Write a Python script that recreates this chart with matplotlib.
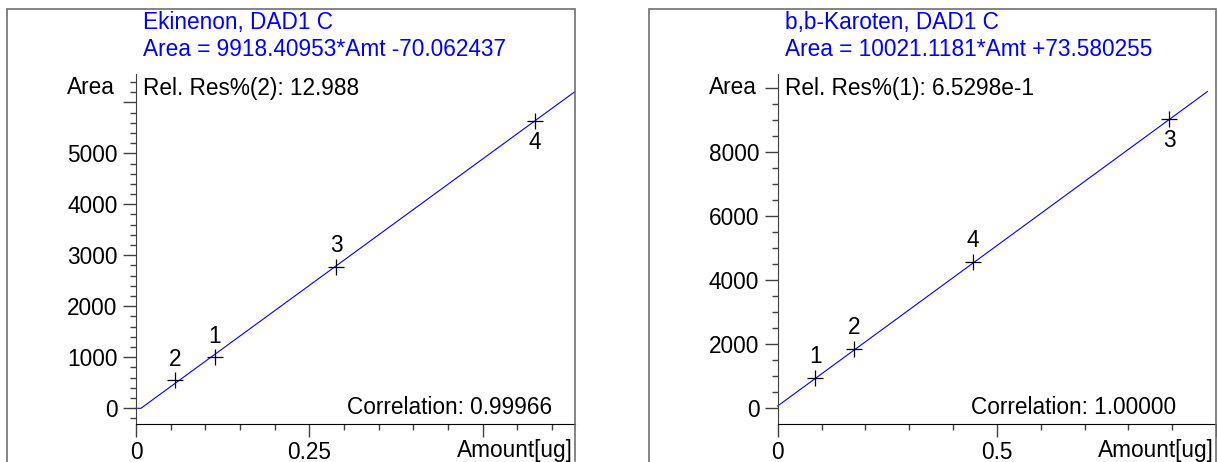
import numpy as np
import matplotlib
matplotlib.use("Agg")
import matplotlib.pyplot as plt
from matplotlib.patches import Rectangle
from matplotlib.ticker import MultipleLocator

plt.rcParams["font.family"] = ["Liberation Sans", "DejaVu Sans"]

# calibration data: Ekinenon
ekin_amt = [0.114, 0.0563, 0.2885, 0.5755]
ekin_area = [1000, 552, 2780, 5625]
ekin_slope, ekin_icept = 9918.40953, -70.062437
ekin_title = ["Ekinenon, DAD1 C", "Area = 9918.40953*Amt -70.062437"]
ekin_res = "Rel. Res%(2): 12.988"
ekin_corr = "Correlation: 0.99966"
ekin_xlabels = ["0", "0.25", ""]
ekin_ylabels = ["0", "1000", "2000", "3000", "4000", "5000", ""]

# calibration data: b,b-Karoten
karo_amt = [0.086, 0.175, 0.8926, 0.4459]
karo_area = [960, 1860, 9034, 4580]
karo_slope, karo_icept = 10021.1181, 73.580255
karo_title = ["b,b-Karoten, DAD1 C", "Area = 10021.1181*Amt +73.580255"]
karo_res = "Rel. Res%(1): 6.5298e-1"
karo_corr = "Correlation: 1.00000"
karo_xlabels = ["0", "0.5", ""]
karo_ylabels = ["0", "2000", "4000", "6000", "8000", ""]

point_ids = ["1", "2", "3", "4"]

W, H = 1217, 462
FS = 16.3
fig = plt.figure(figsize=(W / 100, H / 100), dpi=100)


def px(x0, y0, x1, y1):
    # pixel box (top-left origin) -> figure fraction rect
    return [x0 / W, 1 - y1 / H, (x1 - x0) / W, (y1 - y0) / H]


def panel(frame, axbox, amt, area, slope, icept, title, res, corr, corr_x,
          xlim, ylim, xmaj, xmin, ymaj, ymin, xlabels, ylabels, below):
    fx0, fx1 = frame
    fig.add_artist(Rectangle((fx0 / W, -0.1), (fx1 - fx0) / W, 1.1 - 9.3 / H,
                             transform=fig.transFigure, fill=False,
                             edgecolor="#707070", lw=1.2))
    ax = fig.add_axes(px(*axbox))
    ax.set_xlim(*xlim)
    ax.set_ylim(*ylim)
    for s in ["top", "right"]:
        ax.spines[s].set_visible(False)
    ax.spines["left"].set_color("#404040")
    ax.spines["bottom"].set_color("black")
    ax.xaxis.set_minor_locator(MultipleLocator(xmin))
    ax.yaxis.set_minor_locator(MultipleLocator(ymin))
    ax.set_xticks(np.arange(len(xlabels)) * xmaj, xlabels)
    ax.set_yticks(np.arange(len(ylabels)) * ymaj, ylabels)
    ax.tick_params(which="major", length=9.2, width=1, color="#404040",
                   labelsize=FS, pad=4)
    ax.tick_params(axis="x", which="major", pad=3)
    ax.tick_params(which="minor", length=4.5, width=1, color="#404040")

    # fitted calibration line, floored at zero
    x0 = max(0.0, -icept / slope)
    xs = np.array([0.0, x0, xlim[1]])
    ys = np.maximum(0.0, slope * xs + icept)
    ax.plot(xs, ys, color="#0000ff", lw=0.8, clip_on=False)

    ax.plot(amt, area, "+", color="black", ms=11.5, mew=0.9)
    for i, (a, r) in enumerate(zip(amt, area)):
        dy = -15 if i in below else 15
        ax.annotate(point_ids[i], (a, r), xytext=(0, dy), textcoords="offset points",
                    ha="center", va="center", fontsize=FS)

    ax0 = axbox[0]
    fig.text((ax0 + 7) / W, 1 - 23 / H, title[0], color="#0000ff", fontsize=FS,
             ha="left", va="center")
    fig.text((ax0 + 7) / W, 1 - 49.5 / H, title[1], color="#0000ff", fontsize=FS,
             ha="left", va="center")
    fig.text((ax0 + 7) / W, 1 - 88 / H, res, fontsize=FS, ha="left", va="center")
    fig.text((ax0 - 21) / W, 1 - 87 / H, "Area", fontsize=FS, ha="right", va="center")
    fig.text((axbox[2] - 2) / W, 1 - 450 / H, "Amount[ug]", fontsize=FS,
             ha="right", va="center")
    fig.text(corr_x / W, 1 - 408 / H, corr, fontsize=FS, ha="right", va="center")
    return ax


panel((7, 575), (136, 74, 575, 424), ekin_amt, ekin_area, ekin_slope, ekin_icept,
      ekin_title, ekin_res, ekin_corr, 552, (0, 0.6332), (-308, 6555),
      0.25, 0.05, 1000, 200, ekin_xlabels, ekin_ylabels, below=[3])

panel((649, 1216), (777.7, 74, 1216, 424), karo_amt, karo_area, karo_slope, karo_icept,
      karo_title, karo_res, karo_corr, 1176, (0, 0.9805), (-490, 10447),
      0.5, 0.1, 2000, 500, karo_xlabels, karo_ylabels, below=[2])

fig.savefig("out.png", dpi=100, facecolor="white")
